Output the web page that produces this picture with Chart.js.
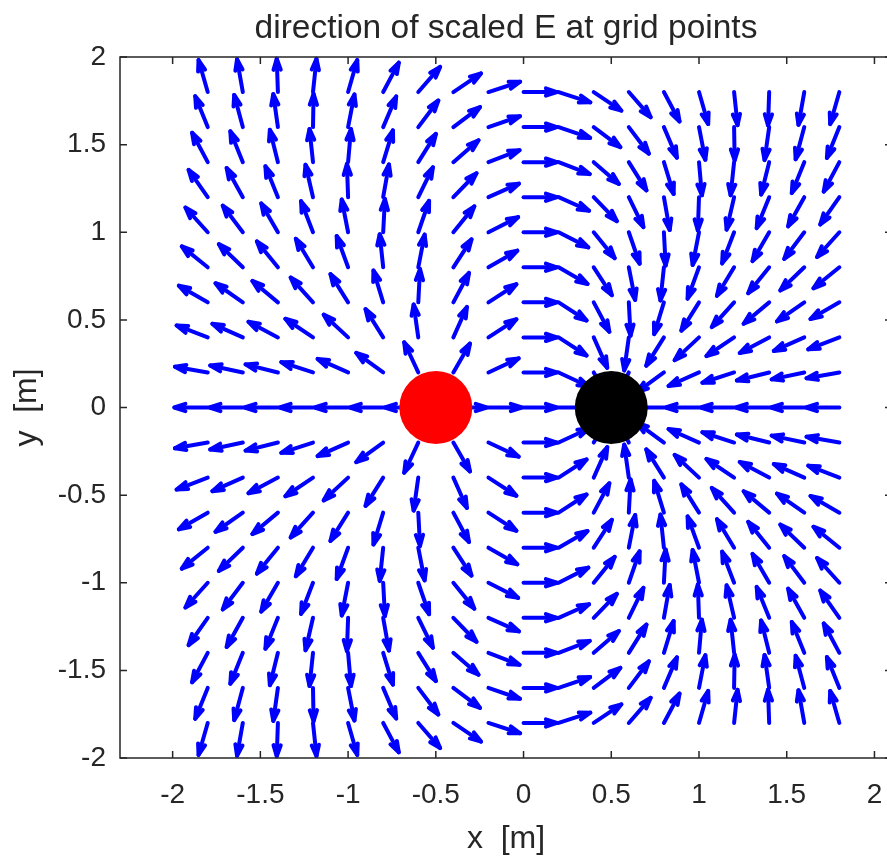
<!DOCTYPE html>
<html>
<head>
<meta charset="utf-8">
<title>direction of scaled E at grid points</title>
<script src="https://cdn.jsdelivr.net/npm/chart.js@4.4.1/dist/chart.umd.min.js"></script>
<style>
  html, body { margin: 0; padding: 0; background: #fff; overflow: hidden; }
  canvas { display: block; }
</style>
</head>
<body>
<canvas id="quiver" width="937" height="859"></canvas>
<script>
// grid points where the field direction is drawn
const xGrid = [-1.8, -1.6, -1.4, -1.2, -1.0, -0.8, -0.6, -0.4, -0.2, 0, 0.2, 0.4, 0.6, 0.8, 1.0, 1.2, 1.4, 1.6, 1.8];
const yGrid = [1.8, 1.6, 1.4, 1.2, 1.0, 0.8, 0.6, 0.4, 0.2, 0, -0.2, -0.4, -0.6, -0.8, -1.0, -1.2, -1.4, -1.6, -1.8];

// direction of E at each grid point, degrees from +x (rows follow yGrid, columns follow xGrid)
const fieldAngle = [
  [106, 100, 92, 84, 74, 62, 49, 34, 18, 0, -18, -34, -49, -62, -74, -84, -92, -100, -106],
  [112, 105, 98, 89, 79, 67, 53, 37, 19, 0, -19, -37, -53, -67, -79, -89, -98, -105, -112],
  [118, 112, 104, 96, 85, 73, 58, 41, 21, 0, -21, -41, -58, -73, -85, -96, -104, -112, -118],
  [125, 119, 112, 103, 92, 80, 64, 46, 24, 0, -24, -46, -64, -80, -92, -103, -112, -119, -125],
  [132, 127, 120, 111, 101, 87, 71, 51, 27, 0, -27, -51, -71, -87, -101, -111, -120, -127, -132],
  [141, 136, 129, 121, 110, 96, 79, 57, 30, 0, -30, -57, -79, -96, -110, -121, -129, -136, -141],
  [150, 145, 140, 132, 122, 107, 87, 62, 33, 0, -33, -62, -87, -107, -122, -132, -140, -145, -150],
  [159, 156, 152, 146, 137, 122, 98, 66, 33, 0, -33, -66, -98, -122, -137, -146, -152, -156, -159],
  [170, 168, 166, 162, 156, 144, 115, 60, 25, 0, -25, -60, -115, -144, -156, -162, -166, -168, -170],
  [180, 180, 180, 180, 180, 180, 180, 0, 0, 0, 0, 0, 180, 180, 180, 180, 180, 180, 180],
  [-170, -168, -166, -162, -156, -144, -115, -60, -25, 0, 25, 60, 115, 144, 156, 162, 166, 168, 170],
  [-159, -156, -152, -146, -137, -122, -98, -66, -33, 0, 33, 66, 98, 122, 137, 146, 152, 156, 159],
  [-150, -145, -140, -132, -122, -107, -87, -62, -33, 0, 33, 62, 87, 107, 122, 132, 140, 145, 150],
  [-141, -136, -129, -121, -110, -96, -79, -57, -30, 0, 30, 57, 79, 96, 110, 121, 129, 136, 141],
  [-132, -127, -120, -111, -101, -87, -71, -51, -27, 0, 27, 51, 71, 87, 101, 111, 120, 127, 132],
  [-125, -119, -112, -103, -92, -80, -64, -46, -24, 0, 24, 46, 64, 80, 92, 103, 112, 119, 125],
  [-118, -112, -104, -96, -85, -73, -58, -41, -21, 0, 21, 41, 58, 73, 85, 96, 104, 112, 118],
  [-112, -105, -98, -89, -79, -67, -53, -37, -19, 0, 19, 37, 53, 67, 79, 89, 98, 105, 112],
  [-106, -100, -92, -84, -74, -62, -49, -34, -18, 0, 18, 34, 49, 62, 74, 84, 92, 100, 106],
];

// charges
const positiveCharge = [{ x: -0.5, y: 0 }];
const negativeCharge = [{ x: 0.5, y: 0 }];

// axis ticks
const xTicks = [-2, -1.5, -1, -0.5, 0, 0.5, 1, 1.5, 2];
const xTickLabels = ["-2", "-1.5", "-1", "-0.5", "0", "0.5", "1", "1.5", "2"];
const yTicks = [-2, -1.5, -1, -0.5, 0, 0.5, 1, 1.5, 2];
const yTickLabels = ["-2", "-1.5", "-1", "-0.5", "0", "0.5", "1", "1.5", "2"];

const TEXT = "#262626";
const ARROW_LEN = 0.19;
const HEAD = 0.33;

Chart.defaults.font.family = "'Liberation Sans', Arial, Helvetica, sans-serif";
Chart.defaults.color = TEXT;

const arrowTails = [];
yGrid.forEach((yv, r) => {
  xGrid.forEach((xv, c) => arrowTails.push({ x: xv, y: yv, angle: fieldAngle[r][c] }));
});

// quiver arrows, drawn under the charge markers
const quiverPlugin = {
  id: "quiver",
  beforeDatasetsDraw(chart) {
    const { ctx, scales: { x, y } } = chart;
    ctx.save();
    ctx.strokeStyle = "#0000ff";
    ctx.lineWidth = 4;
    ctx.lineJoin = "round";
    ctx.lineCap = "round";
    for (const p of chart.data.datasets[0].data) {
      const a = (p.angle * Math.PI) / 180;
      const u = ARROW_LEN * Math.cos(a);
      const v = ARROW_LEN * Math.sin(a);
      const tipX = x.getPixelForValue(p.x + u);
      const tipY = y.getPixelForValue(p.y + v);
      ctx.beginPath();
      ctx.moveTo(x.getPixelForValue(p.x), y.getPixelForValue(p.y));
      ctx.lineTo(tipX, tipY);
      ctx.stroke();
      ctx.beginPath();
      ctx.moveTo(x.getPixelForValue(p.x + u - HEAD * (u + HEAD * v)), y.getPixelForValue(p.y + v - HEAD * (v - HEAD * u)));
      ctx.lineTo(tipX, tipY);
      ctx.lineTo(x.getPixelForValue(p.x + u - HEAD * (u - HEAD * v)), y.getPixelForValue(p.y + v - HEAD * (v + HEAD * u)));
      ctx.stroke();
    }
    ctx.restore();
  },
};

// box with inward ticks on all four sides
const boxPlugin = {
  id: "box",
  afterDraw(chart) {
    const { ctx, chartArea: { left, right, top, bottom }, scales: { x, y } } = chart;
    const tick = 7;
    ctx.save();
    ctx.strokeStyle = TEXT;
    ctx.lineWidth = 1.5;
    ctx.strokeRect(left, top, right - left, bottom - top);
    ctx.beginPath();
    xTicks.forEach((v) => {
      const px = x.getPixelForValue(v);
      ctx.moveTo(px, bottom); ctx.lineTo(px, bottom - tick);
      ctx.moveTo(px, top); ctx.lineTo(px, top + tick);
    });
    yTicks.forEach((v) => {
      const py = y.getPixelForValue(v);
      ctx.moveTo(left, py); ctx.lineTo(left + tick, py);
      ctx.moveTo(right, py); ctx.lineTo(right - tick, py);
    });
    ctx.stroke();
    ctx.restore();
  },
};

new Chart(document.getElementById("quiver").getContext("2d"), {
  type: "scatter",
  data: {
    datasets: [
      { label: "grid", data: arrowTails, pointRadius: 0, pointHoverRadius: 0 },
      { label: "+q", data: positiveCharge, pointRadius: 36.5, pointHoverRadius: 36.5, backgroundColor: "#ff0000", borderWidth: 0 },
      { label: "-q", data: negativeCharge, pointRadius: 36.5, pointHoverRadius: 36.5, backgroundColor: "#000000", borderWidth: 0 },
    ],
  },
  options: {
    responsive: false,
    animation: false,
    events: [],
    layout: { padding: { left: 0, right: 45, top: 0, bottom: 0 } },
    plugins: {
      legend: { display: false },
      tooltip: { enabled: false },
      title: {
        display: true,
        fullSize: false,
        text: "direction of scaled E at grid points",
        color: TEXT,
        font: { size: 33.5, weight: "normal" },
        padding: { top: 8.3, bottom: 8.5 },
      },
    },
    scales: {
      x: {
        type: "linear",
        min: -2.3,
        max: 2.1,
        afterBuildTicks: (s) => { s.ticks = xTicks.map((v) => ({ value: v })); },
        afterFit: (s) => { s.height = 101; },
        grid: { display: false },
        border: { display: false },
        ticks: { color: TEXT, font: { size: 28 }, padding: 12, maxRotation: 0, autoSkip: false, callback: (v, i) => xTickLabels[i] },
        title: { display: true, text: "x  [m]", color: TEXT, font: { size: 32 }, padding: { top: 0, bottom: 1 } },
      },
      y: {
        type: "linear",
        min: -2,
        max: 2,
        afterBuildTicks: (s) => { s.ticks = yTicks.map((v) => ({ value: v })); },
        afterFit: (s) => { s.width = 120; },
        grid: { display: false },
        border: { display: false },
        ticks: { color: TEXT, font: { size: 28 }, padding: 6, autoSkip: false, callback: (v, i) => yTickLabels[i] },
        title: { display: true, text: "y  [m]", color: TEXT, font: { size: 32 }, padding: { top: 8, bottom: 0 } },
      },
    },
  },
  plugins: [quiverPlugin, boxPlugin],
});
</script>
</body>
</html>
